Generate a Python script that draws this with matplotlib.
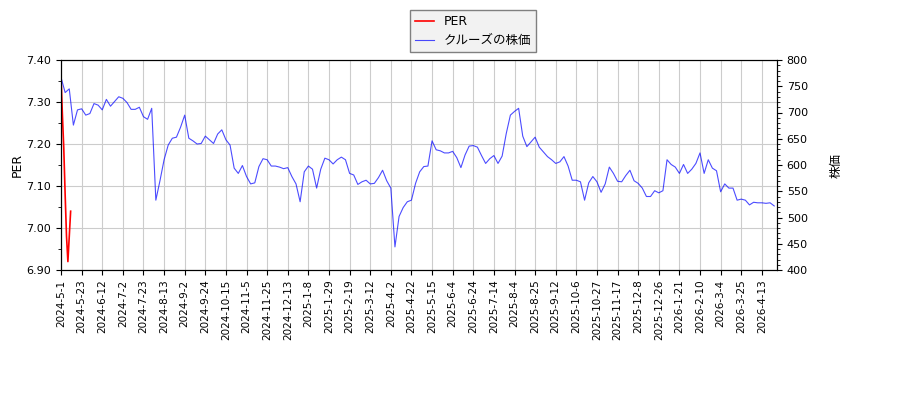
import numpy as np
import matplotlib.pyplot as plt
from matplotlib.ticker import MultipleLocator

plt.rcParams['font.family'] = ['DejaVu Sans', 'Noto Sans CJK JP']

# x axis: trading-day index, a label every 15 trading days
tick_labels = [
    '2024-5-1', '2024-5-23', '2024-6-12', '2024-7-2', '2024-7-23', '2024-8-13',
    '2024-9-2', '2024-9-24', '2024-10-15', '2024-11-5', '2024-11-25', '2024-12-13',
    '2025-1-8', '2025-1-29', '2025-2-19', '2025-3-12', '2025-4-2', '2025-4-22',
    '2025-5-15', '2025-6-4', '2025-6-24', '2025-7-14', '2025-8-4', '2025-8-25',
    '2025-9-12', '2025-10-6', '2025-10-27', '2025-11-17', '2025-12-8', '2025-12-26',
    '2026-1-21', '2026-2-10', '2026-3-4', '2026-3-25', '2026-4-13',
]
tick_step = 15
n_days = 522

# PER, first trading days only
per_values = [7.36, 7.27, 7.19, 7.08, 6.98, 6.92, 6.98, 7.04]

# share price, read every 3 trading days
price_step = 3
price_values = [
    767, 738, 745, 676, 705, 707, 695, 698, 717, 714,
    705, 725, 712, 721, 730, 727, 719, 706, 706, 710,
    692, 687, 708, 533, 570, 610, 638, 651, 653, 672,
    695, 651, 646, 640, 641, 655, 648, 641, 659, 667,
    648, 638, 594, 584, 599, 578, 564, 566, 597, 612,
    610, 598, 598, 596, 593, 595, 578, 564, 530, 587,
    598, 592, 556, 592, 613, 610, 602, 610, 615, 610,
    584, 581, 563, 568, 571, 564, 565, 576, 590, 570,
    556, 444, 502, 519, 530, 533, 565, 587, 597, 598,
    646, 629, 627, 623, 623, 626, 614, 595, 619, 636,
    637, 634, 618, 603, 612, 618, 603, 617, 660, 695,
    702, 708, 655, 635, 644, 653, 634, 625, 616, 610,
    603, 606, 616, 598, 571, 571, 568, 533, 566, 578,
    568, 548, 564, 596, 584, 569, 568, 580, 590, 570,
    565, 556, 540, 540, 551, 547, 551, 610, 601, 596,
    584, 601, 584, 592, 603, 623, 584, 610, 594, 589,
    549, 564, 556, 556, 533, 535, 533, 524, 529, 528,
    528, 527, 528, 522,
]

fig, ax = plt.subplots(figsize=(9, 4), dpi=100)
fig.subplots_adjust(left=0.0678, right=0.8633, top=0.85, bottom=0.325)
ax2 = ax.twinx()

l1, = ax.plot(np.arange(len(per_values)), per_values, color='red', lw=1.2, label='PER')
l2, = ax2.plot(np.arange(len(price_values)) * price_step, price_values,
               color='blue', alpha=0.7, lw=0.8, label='クルーズの株価')

ax.set_xlim(0, n_days - 1)
ax.set_ylim(6.9, 7.4)
ax2.set_ylim(400, 800)

ax.set_xticks(np.arange(len(tick_labels)) * tick_step)
ax.set_xticklabels(tick_labels, rotation=90, fontsize=7.5)
ax.yaxis.set_major_locator(MultipleLocator(0.1))
ax.yaxis.set_minor_locator(MultipleLocator(0.05))
ax.yaxis.set_major_formatter('{x:.2f}')
ax2.yaxis.set_major_locator(MultipleLocator(50))
ax2.yaxis.set_minor_locator(MultipleLocator(10))
ax.tick_params(axis='y', labelsize=8)
ax2.tick_params(axis='y', labelsize=8)

ax.grid(True, color='#cccccc', lw=0.8)
ax.set_ylabel('PER', fontsize=9, labelpad=2)
ax2.set_ylabel('株価', fontsize=9, labelpad=16)

fig.legend(handles=[l1, l2], loc='upper left', bbox_to_anchor=(410 / 900, 1 - 10 / 400),
           borderaxespad=0, fontsize=9, handlelength=1.5, fancybox=False,
           facecolor='#f2f2f2', edgecolor='#808080', framealpha=1)

fig.savefig('out.png')
